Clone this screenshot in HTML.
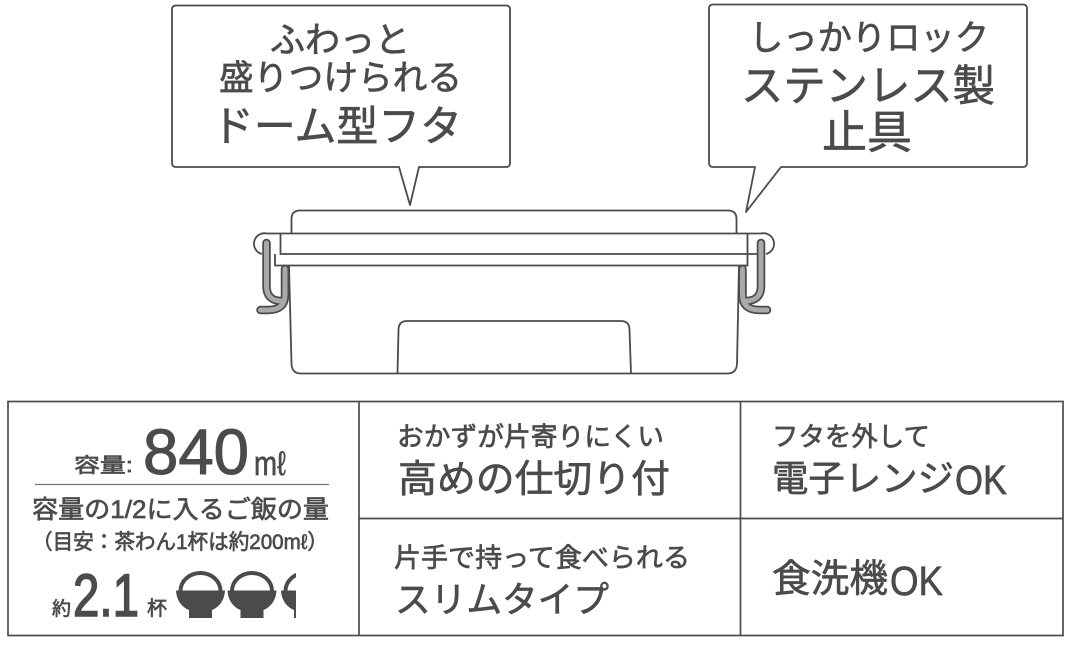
<!DOCTYPE html>
<html lang="ja"><head><meta charset="utf-8"><style>
html,body{margin:0;padding:0;background:#fff}
svg{display:block}
text{font-family:"Liberation Sans","Noto Sans CJK JP",sans-serif;fill:#4b4b4d;stroke:#4b4b4d;stroke-width:.65px}
</style></head><body>
<svg width="1068" height="646" viewBox="0 0 1068 646" xmlns="http://www.w3.org/2000/svg">
<defs><clipPath id="c"><rect x="170" y="560" width="126" height="70"/></clipPath>
<g id="bowl"><path d="M-20 20 A20 18 0 0 1 20 20" fill="none" stroke="#4b4b4d" stroke-width="4"/>
<path d="M-24.500 19.500 H24.500 C24 29 19 36 11.500 39 V47 H-11.500 V39 C-19 36 -24 29 -24.500 19.500Z" fill="#4b4b4d"/></g>
<g id="latch" fill="none" stroke-linecap="round">
<path d="M266.500 243 V286 Q266.500 301 282 301" stroke="#4b4b4d" stroke-width="8.500"/>
<path d="M285 269 V295 Q285 310 268 310 H260.500" stroke="#4b4b4d" stroke-width="8.500"/>
<path d="M266.500 243 V286 Q266.500 301 282 301" stroke="#a9a9ab" stroke-width="5"/>
<path d="M285 269 V295 Q285 310 268 310 H260.500" stroke="#a9a9ab" stroke-width="5"/>
</g></defs>

<g fill="#fff" stroke="#4b4b4d" stroke-width="1.800" stroke-linejoin="round">
<path d="M176 5.500 H506 Q510 5.500 510 9.500 V163 Q510 167 506 167 H419 L410 205 L399 167 H176 Q172 167 172 163 V9.500 Q172 5.500 176 5.500Z"/>
<path d="M713 4.500 H1023 Q1027 4.500 1027 8.500 V163 Q1027 167 1023 167 H781 L746 212 L755 167 H713 Q709 167 709 163 V8.500 Q709 4.500 713 4.500Z"/>
</g>
<text x="340" y="52" font-size="35.500" text-anchor="middle" textLength="140" lengthAdjust="spacingAndGlyphs">ふわっと</text>
<text x="340.500" y="90" font-size="35" text-anchor="middle" textLength="243" lengthAdjust="spacingAndGlyphs">盛りつけられる</text>
<text x="337" y="141" font-size="42" text-anchor="middle" textLength="250" lengthAdjust="spacingAndGlyphs">ドーム型フタ</text>
<text x="869" y="50" font-size="35" text-anchor="middle" textLength="240" lengthAdjust="spacingAndGlyphs">しっかりロック</text>
<text x="868" y="101" font-size="43" text-anchor="middle" textLength="254" lengthAdjust="spacingAndGlyphs">ステンレス製</text>
<text x="867" y="148" font-size="45" text-anchor="middle" textLength="90" lengthAdjust="spacingAndGlyphs">止具</text>

<g fill="none" stroke="#4b4b4d" stroke-width="1.800">
<path d="M291.500 233.500 V219 Q291.500 210.500 300 210.500 H728 Q736.500 210.500 736.500 219 V233.500"/>
<path d="M747.500 233.500 H280.500 V254 H747.500 V233.500"/>
<path d="M275 254 V265.500 H747.500 V254"/>
<path d="M289 265.500 L291.500 364 Q292 373.500 301 373.500 H727 Q736.500 373.500 737 364 L739 265.500"/>
<path d="M397.500 373.500 L398.500 330 Q398.500 321 407 321 H621 Q629.500 321 629.500 330 L631 373.500"/>
<path d="M280.500 233.500 H267 A10.500 10.500 0 0 0 262 254"/>
<path d="M747.500 233.500 H761 A10.500 10.500 0 0 1 766 254 M747.500 254 H758"/>
</g>
<use href="#latch"/>
<use href="#latch" transform="translate(1027.500,0) scale(-1,1)"/>

<g fill="none" stroke="#4b4b4d" stroke-width="1.700">
<rect x="8" y="401.500" width="1055" height="234"/>
<path d="M359 401.500 V635.500 M740.500 401.500 V635.500 M359 518.500 H1063"/>
</g>
<path d="M35 484.500 H329" stroke="#777" stroke-width="1.200"/>

<text x="74" y="472" font-size="20" textLength="59" lengthAdjust="spacingAndGlyphs">容量:</text>
<text x="143" y="474" font-size="64" textLength="106" lengthAdjust="spacingAndGlyphs" style="stroke-width:1px">840</text>
<text x="254" y="475" font-size="34" textLength="32" lengthAdjust="spacingAndGlyphs">mℓ</text>
<text x="32" y="518" font-size="25" textLength="297" lengthAdjust="spacingAndGlyphs">容量の1/2に入るご飯の量</text>
<text x="32" y="549" font-size="21" textLength="296" lengthAdjust="spacingAndGlyphs">（目安：茶わん1杯は約200mℓ）</text>
<text x="52" y="615" font-size="19">約</text>
<text x="73" y="616" font-size="60" textLength="66" lengthAdjust="spacingAndGlyphs" style="stroke-width:1.600px">2.1</text>
<text x="147" y="615" font-size="20">杯</text>
<g clip-path="url(#c)">
<use href="#bowl" x="200.500" y="571"/>
<use href="#bowl" x="252" y="571"/>
<use href="#bowl" x="305.500" y="571"/>
</g>

<text x="397" y="446" font-size="26.500" textLength="267" lengthAdjust="spacingAndGlyphs">おかずが片寄りにくい</text>
<text x="398" y="492" font-size="38" textLength="272" lengthAdjust="spacingAndGlyphs">高めの仕切り付</text>
<text x="772" y="446" font-size="26.500" textLength="158" lengthAdjust="spacingAndGlyphs">フタを外して</text>
<text x="772" y="491" font-size="36.500" textLength="182" lengthAdjust="spacingAndGlyphs">電子レンジ</text>
<text x="955" y="494" font-size="41" textLength="52" lengthAdjust="spacingAndGlyphs">OK</text>
<text x="394" y="567" font-size="26.500" textLength="296" lengthAdjust="spacingAndGlyphs">片手で持って食べられる</text>
<text x="395" y="612" font-size="36" textLength="214" lengthAdjust="spacingAndGlyphs">スリムタイプ</text>
<text x="772" y="592" font-size="38.500" textLength="116" lengthAdjust="spacingAndGlyphs">食洗機</text>
<text x="890" y="595" font-size="41" textLength="53" lengthAdjust="spacingAndGlyphs">OK</text>
</svg>
</body></html>
